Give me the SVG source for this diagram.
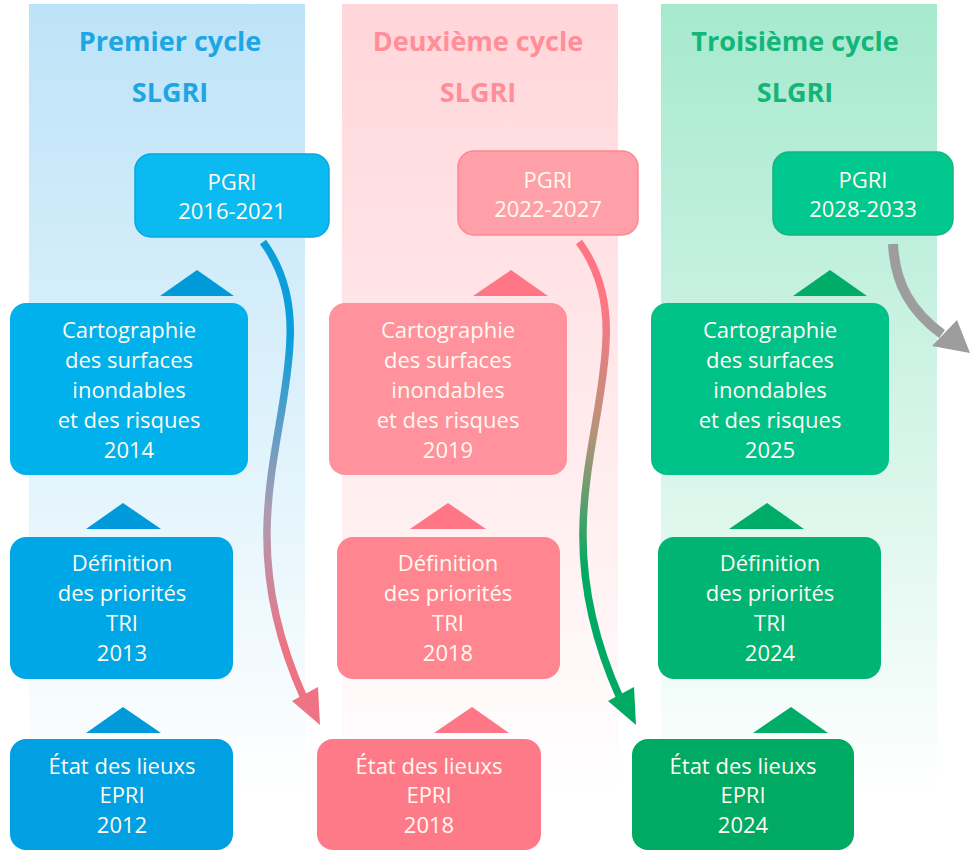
<svg xmlns="http://www.w3.org/2000/svg" width="971" height="855" viewBox="0 0 971 855">
<defs>
<linearGradient id="bgBlue" x1="0" y1="0" x2="0" y2="1"><stop offset="0" stop-color="#bde3f8"/><stop offset="0.6" stop-color="#e3f4fc"/><stop offset="1" stop-color="#ffffff"/></linearGradient>
<linearGradient id="bgPink" x1="0" y1="0" x2="0" y2="1"><stop offset="0" stop-color="#ffd6da"/><stop offset="0.6" stop-color="#ffedef"/><stop offset="1" stop-color="#ffffff"/></linearGradient>
<linearGradient id="bgGreen" x1="0" y1="0" x2="0" y2="1"><stop offset="0" stop-color="#a6e9cf"/><stop offset="0.6" stop-color="#daf6eb"/><stop offset="1" stop-color="#ffffff"/></linearGradient>
<linearGradient id="arBP" gradientUnits="userSpaceOnUse" x1="0" y1="242" x2="0" y2="724"><stop offset="0" stop-color="#0a9fdc"/><stop offset="0.2" stop-color="#0a9fdc"/><stop offset="0.55" stop-color="#a99cb2"/><stop offset="0.85" stop-color="#ee7384"/><stop offset="1" stop-color="#ee7384"/></linearGradient>
<linearGradient id="arPG" gradientUnits="userSpaceOnUse" x1="0" y1="242" x2="0" y2="724"><stop offset="0" stop-color="#ff7585"/><stop offset="0.12" stop-color="#ff7585"/><stop offset="0.4" stop-color="#b59478"/><stop offset="0.68" stop-color="#00aa62"/><stop offset="1" stop-color="#00aa62"/></linearGradient>
</defs>
<style>
.hd{font-family:"Open Sans","Liberation Sans",sans-serif;font-weight:700;font-size:27px;text-anchor:middle}
.tx{font-family:"Open Sans","Liberation Sans",sans-serif;font-size:22px;fill:#fffaf0;text-anchor:middle}
.b1{fill:#0abaf0;stroke:#0aa6dc;stroke-width:1.5}
.b2{fill:#00b1ec}.b3{fill:#00a7e6}.b4{fill:#00a0e2}.bt{fill:#0099da}
.p1{fill:#ffa0a8;stroke:#ff8591;stroke-width:1.5}
.p2{fill:#ff929c}.p3{fill:#ff8691}.p4{fill:#ff7a89}.pt{fill:#ff7686}
.g1{fill:#00c88e;stroke:#18b37c;stroke-width:1.5}
.g2{fill:#00c188}.g3{fill:#00b474}.g4{fill:#00aa62}.gt{fill:#00ad68}
.conn{fill:none;stroke-width:7.5}
</style>
<rect width="971" height="855" fill="#ffffff"/>
<g id="columns">
<rect x="29" y="4" width="276" height="790" fill="url(#bgBlue)"/>
<rect x="342" y="4" width="276" height="790" fill="url(#bgPink)"/>
<rect x="661" y="4" width="276" height="790" fill="url(#bgGreen)"/>
</g>
<g id="headers">
<text class="hd" x="170" y="51" fill="#1ea6e2">Premier cycle</text>
<text class="hd" x="170" y="102" fill="#1ea6e2">SLGRI</text>
<text class="hd" x="478" y="51" fill="#ff8e99">Deuxième cycle</text>
<text class="hd" x="478" y="102" fill="#ff8e99">SLGRI</text>
<text class="hd" x="795" y="51" fill="#13b678">Troisième cycle</text>
<text class="hd" x="795" y="102" fill="#13b678">SLGRI</text>
</g>
<g id="triangles">
<polygon class="bt" points="197,270 234,296 160,296"/>
<polygon class="bt" points="123,503 161,529 86,529"/>
<polygon class="bt" points="123,707 161,733 86,733"/>
<polygon class="pt" points="511,270 548,296 473,296"/>
<polygon class="pt" points="448,503 486,529 410,529"/>
<polygon class="pt" points="472,707 509,733 434,733"/>
<polygon class="gt" points="830,270 867,296 793,296"/>
<polygon class="gt" points="767,503 804,529 729,529"/>
<polygon class="gt" points="791,707 828,733 753,733"/>
</g>
<g id="pgri1"><rect class="b1" x="135" y="154" width="194" height="83" rx="16"/><text class="tx" x="232" y="190">PGRI</text><text class="tx" x="232" y="219">2016-2021</text></g>
<g id="carto1"><rect class="b2" x="10" y="303" width="238" height="172" rx="16"/><text class="tx" x="129" y="338">Cartographie</text><text class="tx" x="129" y="368">des surfaces</text><text class="tx" x="129" y="398">inondables</text><text class="tx" x="129" y="428">et des risques</text><text class="tx" x="129" y="458">2014</text></g>
<g id="def1"><rect class="b3" x="10" y="537" width="223" height="142" rx="16"/><text class="tx" x="122" y="571">Définition</text><text class="tx" x="122" y="601">des priorités</text><text class="tx" x="122" y="631">TRI</text><text class="tx" x="122" y="661">2013</text></g>
<g id="etat1"><rect class="b4" x="10" y="739" width="223" height="111" rx="16"/><text class="tx" x="122" y="774">État des lieuxs</text><text class="tx" x="122" y="803">EPRI</text><text class="tx" x="122" y="833">2012</text></g>
<g id="pgri2"><rect class="p1" x="458" y="151" width="180" height="84" rx="16"/><text class="tx" x="548" y="188">PGRI</text><text class="tx" x="548" y="217">2022-2027</text></g>
<g id="carto2"><rect class="p2" x="329" y="303" width="238" height="172" rx="16"/><text class="tx" x="448" y="338">Cartographie</text><text class="tx" x="448" y="368">des surfaces</text><text class="tx" x="448" y="398">inondables</text><text class="tx" x="448" y="428">et des risques</text><text class="tx" x="448" y="458">2019</text></g>
<g id="def2"><rect class="p3" x="337" y="537" width="223" height="142" rx="16"/><text class="tx" x="448" y="571">Définition</text><text class="tx" x="448" y="601">des priorités</text><text class="tx" x="448" y="631">TRI</text><text class="tx" x="448" y="661">2018</text></g>
<g id="etat2"><rect class="p4" x="317" y="739" width="224" height="111" rx="16"/><text class="tx" x="429" y="774">État des lieuxs</text><text class="tx" x="429" y="803">EPRI</text><text class="tx" x="429" y="833">2018</text></g>
<g id="pgri3"><rect class="g1" x="773" y="152" width="180" height="83" rx="16"/><text class="tx" x="863" y="188">PGRI</text><text class="tx" x="863" y="217">2028-2033</text></g>
<g id="carto3"><rect class="g2" x="651" y="303" width="238" height="172" rx="16"/><text class="tx" x="770" y="338">Cartographie</text><text class="tx" x="770" y="368">des surfaces</text><text class="tx" x="770" y="398">inondables</text><text class="tx" x="770" y="428">et des risques</text><text class="tx" x="770" y="458">2025</text></g>
<g id="def3"><rect class="g3" x="658" y="537" width="223" height="142" rx="16"/><text class="tx" x="770" y="571">Définition</text><text class="tx" x="770" y="601">des priorités</text><text class="tx" x="770" y="631">TRI</text><text class="tx" x="770" y="661">2024</text></g>
<g id="etat3"><rect class="g4" x="632" y="739" width="222" height="111" rx="16"/><text class="tx" x="743" y="774">État des lieuxs</text><text class="tx" x="743" y="803">EPRI</text><text class="tx" x="743" y="833">2024</text></g>
<g id="connectors">
<path class="conn" stroke="url(#arBP)" d="M263,242 C282,268 292,300 290,340 C288,400 268,460 267,530 C266,590 280,645 304,698"/>
<polygon fill="#ee7384" points="320,725 292,701 318,687"/>
<path class="conn" stroke="url(#arPG)" d="M579,242 C598,268 608,300 606,340 C604,400 584,460 583,530 C582,590 596,645 620,698"/>
<polygon fill="#00aa62" points="636,725 608,701 634,687"/>
<path fill="none" stroke="#9d9d9d" stroke-width="10" d="M893,244 C895,285 912,312 942,334"/>
<polygon fill="#9d9d9d" points="970,353 932,346 957,320"/>
</g>
</svg>
